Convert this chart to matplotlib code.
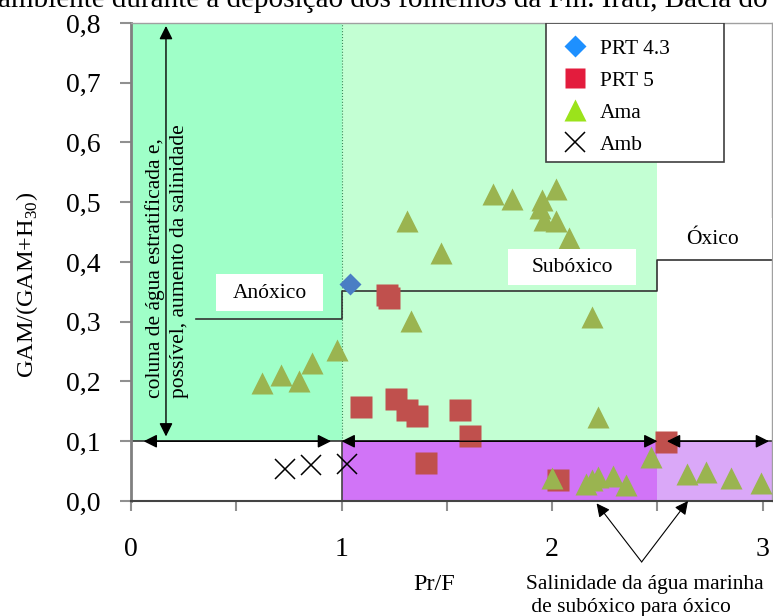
import matplotlib
matplotlib.use('Agg')
import matplotlib.pyplot as plt
from matplotlib.patches import Rectangle
from matplotlib.lines import Line2D

plt.rcParams['font.family'] = ['Liberation Serif', 'DejaVu Serif']
plt.rcParams['mathtext.fontset'] = 'custom'
plt.rcParams['mathtext.rm'] = 'Liberation Serif'

# data
ama_x = [0.62, 0.71, 0.80, 0.86, 0.98, 1.31, 1.47, 1.33, 1.72, 1.81, 1.95, 2.02, 1.94,
         1.96, 2.02, 2.08, 2.19, 2.22, 2.00, 2.16, 2.19, 2.22, 2.29, 2.35, 2.47, 2.64,
         2.73, 2.85, 2.99]
ama_y = [0.197, 0.211, 0.201, 0.231, 0.253, 0.469, 0.415, 0.302, 0.513, 0.505, 0.504,
         0.522, 0.490, 0.470, 0.469, 0.440, 0.308, 0.141, 0.038, 0.028, 0.035, 0.040,
         0.041, 0.027, 0.074, 0.046, 0.049, 0.038, 0.030]
prt5_x = [1.215, 1.225, 1.09, 1.26, 1.31, 1.36, 1.56, 1.61, 1.40, 2.03, 2.54]
prt5_y = [0.345, 0.340, 0.157, 0.170, 0.152, 0.143, 0.153, 0.108, 0.063, 0.035, 0.099]
prt43_x = [1.04]
prt43_y = [0.363]
amb_x = [0.73, 0.855, 1.027]
amb_y = [0.053, 0.060, 0.062]

# limit line between anoxic / suboxic / oxic
step_x = [0.31, 1.0, 1.0, 2.5, 2.5, 3.05]
step_y = [0.305, 0.305, 0.352, 0.352, 0.403, 0.403]

fig = plt.figure(figsize=(7.73, 6.16), dpi=100)
ax = fig.add_axes([0.1695, 0.1867, 0.8292, 0.776])
ax.set_xlim(0, 3.044)
ax.set_ylim(0, 0.8)

# background zones
zones = [
    (0.0, 1.0, 0.1, 0.8, '#9FFFC8'),
    (1.0, 2.5, 0.1, 0.8, '#C3FFD3'),
    (1.0, 2.5, 0.0, 0.1, '#D174F7'),
    (2.5, 3.1, 0.0, 0.1, '#DAA8F8'),
]
for x0, x1, y0, y1, c in zones:
    ax.add_patch(Rectangle((x0, y0), x1 - x0, y1 - y0, color=c, lw=0, zorder=0))

ax.plot([1, 1], [0.1, 0.8], color='#3a8a5a', lw=0.8, ls=':', zorder=1)
ax.plot([1, 1], [0, 0.1], color='#444444', lw=1.2, zorder=1)
ax.axhline(0.1, color='#333333', lw=1.2, zorder=1)
ax.plot(step_x, step_y, color='#333333', lw=1.2, zorder=1)

# points
ax.plot(prt5_x, prt5_y, 's', color='#C0504D', ms=16, mec='none', zorder=3)
ax.plot(ama_x, ama_y, '^', color='#9AB450', ms=16.5, mec='none', zorder=4)
ax.plot(prt43_x, prt43_y, 'D', color='#4A7EC4', ms=11.5, mec='none', zorder=5)
ax.plot(amb_x, amb_y, 'x', color='black', ms=14, mew=1.1, zorder=5)

# zone labels
ax.add_patch(Rectangle((0.404, 0.318), 0.508, 0.062, facecolor='white', lw=0, zorder=6))
ax.add_patch(Rectangle((1.79, 0.361), 0.607, 0.061, facecolor='white', lw=0, zorder=6))
ax.add_patch(Rectangle((2.51, 0.405), 0.6, 0.069, facecolor='white', lw=0, zorder=6,
                       clip_on=True))
ax.text(0.658, 0.348, 'Anóxico', fontsize=15.5, ha='center', va='center', zorder=7)
ax.text(2.094, 0.390, 'Subóxico', fontsize=15.5, ha='center', va='center', zorder=7)
ax.text(2.763, 0.438, 'Óxico', fontsize=15.5, ha='center', va='center', zorder=7)

# arrows
ap = dict(arrowstyle='<|-|>', color='black', lw=1, mutation_scale=20, shrinkA=0, shrinkB=0)
ax.annotate('', xy=(0.166, 0.795), xytext=(0.166, 0.108), arrowprops=ap, zorder=7)
ax.annotate('', xy=(0.06, 0.1), xytext=(0.95, 0.1), arrowprops=ap, zorder=7)
ax.annotate('', xy=(1.0, 0.1), xytext=(2.50, 0.1), arrowprops=ap, zorder=7)
ax.annotate('', xy=(2.545, 0.1), xytext=(3.03, 0.1), arrowprops=ap, zorder=7)
ap2 = dict(arrowstyle='-|>', color='black', lw=0.8, mutation_scale=20, shrinkA=0, shrinkB=0)
ax.annotate('', xy=(2.211, -0.004), xytext=(2.425, -0.102), arrowprops=ap2,
            annotation_clip=False)
ax.annotate('', xy=(2.645, 0.0), xytext=(2.425, -0.102), arrowprops=ap2,
            annotation_clip=False)

ax.text(0.171, 0.402, 'coluna de água estratificada e,\npossível, aumento da salinidade',
        rotation=90, fontsize=15.5, ha='center', va='center', multialignment='left',
        linespacing=1.35, zorder=6)
ax.text(2.44, -0.159, 'Salinidade da água marinha\n de subóxico para óxico', fontsize=15.5,
        ha='center', va='center', multialignment='left', linespacing=1.3)

# legend
ax.add_patch(Rectangle((0.647, 0.709), 0.278, 0.291, transform=ax.transAxes,
                       facecolor='white', edgecolor='#404040', lw=1.2, zorder=8))
handles = [
    Line2D([], [], marker='D', color='#1E90FF', ls='none', ms=11, mec='none'),
    Line2D([], [], marker='s', color='#E31C3D', ls='none', ms=15, mec='none'),
    Line2D([], [], marker='^', color='#9BE31B', ls='none', ms=16, mec='none'),
    Line2D([], [], marker='x', color='black', ls='none', ms=15, mew=1.1),
]
leg = ax.legend(handles, ['PRT 4.3', 'PRT 5', 'Ama', 'Amb'], loc='upper left',
                bbox_to_anchor=(0.669, 0.967), frameon=False, fontsize=15.5,
                borderpad=0, borderaxespad=0, handlelength=1.4, handletextpad=0.45,
                labelspacing=0.55)
leg.set_zorder(9)

# axes styling
for s in ['top', 'right']:
    ax.spines[s].set_color('#A0A0A0')
    ax.spines[s].set_linewidth(1)
ax.spines['left'].set_color('#808080')
ax.spines['left'].set_linewidth(2)
ax.spines['bottom'].set_color('#444444')
ax.spines['bottom'].set_linewidth(1.5)

ax.set_xticks([0, 1, 2, 3])
ax.set_xticks([0.5, 1.5, 2.5], minor=True)
ax.set_yticks([0, 0.1, 0.2, 0.3, 0.4, 0.5, 0.6, 0.7, 0.8])
ax.set_yticklabels(['0,0', '0,1', '0,2', '0,3', '0,4', '0,5', '0,6', '0,7', '0,8'])
ax.tick_params(axis='x', which='both', direction='out', length=7, width=1.5,
               color='#909090', labelsize=20, pad=19)
ax.tick_params(axis='y', direction='out', length=8, width=1.5, color='#909090',
               labelsize=20, pad=14)

fig.text(434 / 773, 1 - 584 / 616, 'Pr/F', fontsize=17.5, ha='center', va='center')
fig.text(27 / 773, 1 - 285 / 616, r'GAM/(GAM+H$_{\mathrm{30}}$)', fontsize=17.5,
         rotation=90, ha='center', va='center')

# caption line cut off by the top edge of the image (as in the source picture)
fig.text(-0.003, 1 - 7 / 616, 'ambiente durante a deposição dos folhelhos da Fm. Irati, Bacia do',
         fontsize=21, ha='left', va='baseline')

fig.savefig('out.png', dpi=100)
